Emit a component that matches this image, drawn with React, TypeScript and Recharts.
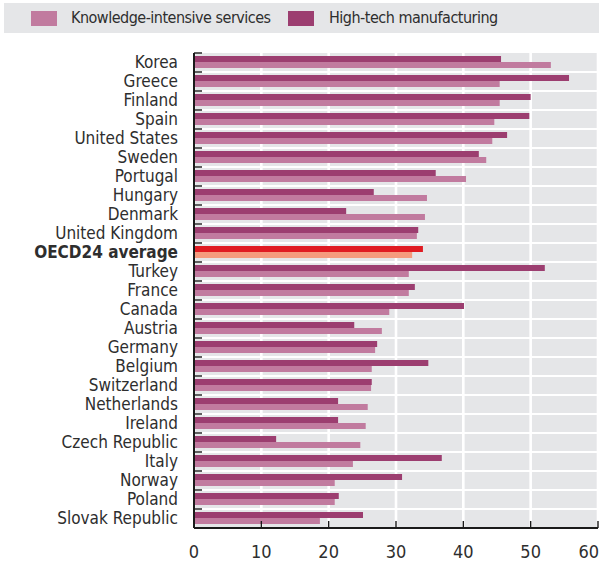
import React from 'react';
import { BarChart, Bar, XAxis, YAxis, CartesianGrid, Cell } from 'recharts';

const countries = [
  'Korea', 'Greece', 'Finland', 'Spain', 'United States', 'Sweden', 'Portugal', 'Hungary',
  'Denmark', 'United Kingdom', 'OECD24 average', 'Turkey', 'France', 'Canada', 'Austria',
  'Germany', 'Belgium', 'Switzerland', 'Netherlands', 'Ireland', 'Czech Republic', 'Italy',
  'Norway', 'Poland', 'Slovak Republic',
];
const highTech = [
  45.6, 55.7, 50.0, 49.8, 46.5, 42.3, 35.9, 26.7, 22.6, 33.3, 34.0, 52.1, 32.8, 40.1, 23.8,
  27.2, 34.8, 26.4, 21.4, 21.4, 12.2, 36.8, 30.9, 21.5, 25.1,
];
const knowledge = [
  53.0, 45.4, 45.4, 44.6, 44.3, 43.4, 40.4, 34.6, 34.3, 33.1, 32.4, 31.9, 31.9, 29.0, 27.9,
  26.9, 26.4, 26.3, 25.8, 25.5, 24.7, 23.6, 20.9, 20.9, 18.7,
];
const xTicks = [0, 10, 20, 30, 40, 50, 60];
const highlight = 'OECD24 average';
const seriesNames = ['Knowledge-intensive services', 'High-tech manufacturing'];

const data = countries.map((name, i) => ({ name, ht: highTech[i], kis: knowledge[i] }));

const FONT = "'DejaVu Sans Condensed', 'DejaVu Sans', sans-serif";
const TEXT = '#2e2e2e';
const DARK = '#9c3e70';
const PINK = '#c17b9f';
const RED = '#e01b22';
const SALMON = '#f59b7e';
const GRID = '#e5e6e8';

const YTick = (props: any) => {
  const { x, y, payload } = props;
  const half = 9.5;
  const bold = payload.value === highlight;
  return (
    <g>
      <line x1={x + 16} x2={x + 24} y1={y - half} y2={y - half} stroke="#1a1a1a" strokeWidth={1.4} />
      <text
        x={x}
        y={y}
        dy={5}
        textAnchor="end"
        fontFamily={FONT}
        fontStretch="condensed"
        fontSize={17}
        fontWeight={bold ? 700 : 400}
        fill={TEXT}
      >
        {payload.value}
      </text>
    </g>
  );
};

const XTick = (props: any) => {
  const { x, y, payload, index, visibleTicksCount } = props;
  const last = index === (visibleTicksCount ?? xTicks.length) - 1;
  return (
    <text
      x={last ? x + 1 : x}
      y={y}
      dy={7}
      textAnchor={last ? 'end' : 'middle'}
      fontFamily={FONT}
      fontStretch="condensed"
      fontSize={18}
      fill={TEXT}
    >
      {payload.value}
    </text>
  );
};

const hGen = ({ offset }: any) => {
  const n = countries.length;
  const out: number[] = [];
  for (let i = 1; i < n; i++) out.push(offset.top + (i * offset.height) / n);
  return out;
};

export default function App() {
  return (
    <div style={{ position: 'absolute', left: 0, top: 0, width: 599, height: 562, background: '#fff' }}>
      <div
        style={{
          position: 'absolute',
          left: 4,
          top: 3,
          width: 595,
          height: 30,
          background: GRID,
          fontFamily: FONT,
          fontStretch: 'condensed',
          fontSize: 16,
          letterSpacing: '-0.5px',
          color: TEXT,
        }}
      >
        <div style={{ position: 'absolute', left: 27, top: 8, width: 26, height: 15, background: PINK }} />
        <div style={{ position: 'absolute', left: 67, top: 3, lineHeight: '24px', whiteSpace: 'nowrap' }}>
          {seriesNames[0]}
        </div>
        <div style={{ position: 'absolute', left: 284, top: 8, width: 26, height: 15, background: DARK }} />
        <div style={{ position: 'absolute', left: 325, top: 3, lineHeight: '24px', whiteSpace: 'nowrap' }}>
          {seriesNames[1]}
        </div>
      </div>
      <div style={{ position: 'absolute', left: 0, top: 0 }}>
        <BarChart
          width={599}
          height={562}
          data={data}
          layout="vertical"
          margin={{ top: 53, right: 1, left: 0, bottom: 4 }}
          barCategoryGap="16%"
          barGap={0}
        >
          <CartesianGrid
            horizontal={true}
            vertical={false}
            fill={GRID}
            fillOpacity={1}
            stroke="#ffffff"
            strokeWidth={1.8}
            horizontalCoordinatesGenerator={hGen}
          />
          <CartesianGrid horizontal={false} vertical={true} stroke="#ffffff" strokeWidth={2.6} />
          <XAxis
            type="number"
            domain={[0, 60]}
            ticks={xTicks}
            height={30}
            axisLine={{ stroke: '#1a1a1a', strokeWidth: 2 }}
            tickLine={{ stroke: '#1a1a1a', strokeWidth: 1.4 }}
            tickSize={-7}
            tickMargin={30}
            tick={<XTick />}
            interval={0}
          />
          <YAxis
            type="category"
            dataKey="name"
            width={194}
            axisLine={{ stroke: '#1a1a1a', strokeWidth: 2 }}
            tickLine={false}
            tickSize={0}
            tickMargin={16}
            tick={<YTick />}
            interval={0}
          />
          <Bar dataKey="ht" name={seriesNames[1]} fill={DARK} isAnimationActive={false}>
            {data.map((d) => (
              <Cell key={d.name} fill={d.name === highlight ? RED : DARK} />
            ))}
          </Bar>
          <Bar dataKey="kis" name={seriesNames[0]} fill={PINK} isAnimationActive={false}>
            {data.map((d) => (
              <Cell key={d.name} fill={d.name === highlight ? SALMON : PINK} />
            ))}
          </Bar>
        </BarChart>
      </div>
    </div>
  );
}
